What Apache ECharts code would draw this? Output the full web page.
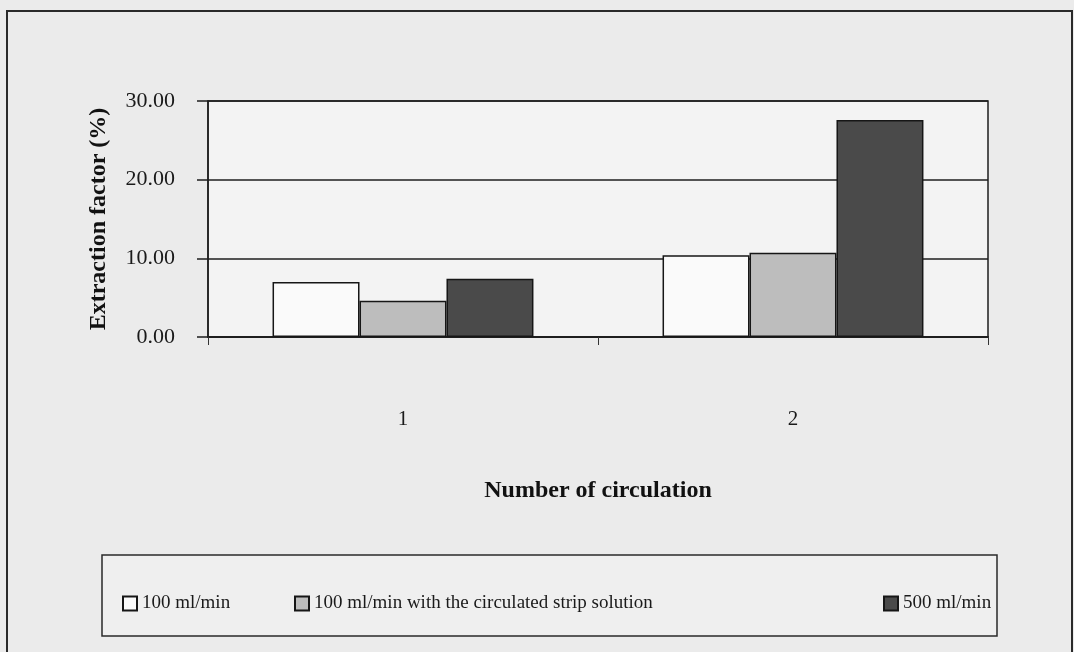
<!DOCTYPE html>
<html>
<head>
    <meta charset="utf-8">
    <title>Extraction factor</title>
    <script src="https://cdn.jsdelivr.net/npm/echarts@6/dist/echarts.min.js"></script>
    <style>
      body { padding: 0; margin: 0; background: #ebebeb; }
      #main { width: 1074px; height: 652px; }
    </style>
</head>
<body>
  <div id="main"></div>
  <script type="text/javascript">
    var categories = ['1', '2']
    var seriesNames = ['100 ml/min', '100 ml/min with the circulated strip solution', '500 ml/min']
    var flow100 = [7.0, 10.4]
    var flow100Strip = [4.6, 10.7]
    var flow500 = [7.4, 27.6]
    var yTicks = [0, 10, 20, 30]

    var font = '"Liberation Serif", "DejaVu Serif", serif'
    var fills = ['#fafafa', '#bdbdbd', '#4a4a4a']

    var myChart = echarts.init(document.getElementById('main'))

    function barSeries(i, data) {
      return {
        name: seriesNames[i],
        type: 'bar',
        data: data,
        barWidth: '22.3%',
        barGap: '0%',
        animation: false,
        itemStyle: { color: fills[i], borderColor: '#161616', borderWidth: 1.5 }
      }
    }

    var legendBase = {
      orient: 'horizontal',
      icon: 'rect',
      itemWidth: 14,
      itemHeight: 14,
      itemGap: 8,
      top: 589,
      textStyle: { fontFamily: font, fontSize: 19, color: '#1a1a1a' }
    }

    var option = {
      backgroundColor: '#ebebeb',
      animation: false,
      textStyle: { fontFamily: font },
      graphic: [
        { type: 'rect', shape: { x: 7, y: 11, width: 1065, height: 660 }, style: { fill: 'none', stroke: '#2a2a2a', lineWidth: 2 }, z: -1 },
        { type: 'rect', shape: { x: 102, y: 555, width: 895, height: 81 }, style: { fill: '#efefef', stroke: '#2a2a2a', lineWidth: 1.5 }, z: -1 }
      ],
      legend: [
        Object.assign({}, legendBase, { left: 117, data: [seriesNames[0]] }),
        Object.assign({}, legendBase, { left: 289, data: [seriesNames[1]] }),
        Object.assign({}, legendBase, { left: 878, data: [seriesNames[2]] })
      ],
      grid: {
        left: 208, right: 86, top: 101, bottom: 315,
        show: true, borderColor: '#1e1e1e', borderWidth: 1.5, backgroundColor: '#f3f3f3'
      },
      xAxis: {
        type: 'category',
        data: categories,
        name: 'Number of circulation',
        nameLocation: 'middle',
        nameGap: 142,
        nameTextStyle: { fontFamily: font, fontSize: 24, fontWeight: 'bold', color: '#111' },
        axisLine: { lineStyle: { color: '#1e1e1e', width: 2 } },
        axisTick: { show: true, length: 8, lineStyle: { color: '#333' } },
        axisLabel: { margin: 72, fontFamily: font, fontSize: 21, color: '#1a1a1a' }
      },
      yAxis: {
        type: 'value',
        min: yTicks[0],
        max: yTicks[yTicks.length - 1],
        interval: 10,
        name: 'Extraction factor (%)',
        nameLocation: 'middle',
        nameGap: 97,
        nameTextStyle: { fontFamily: font, fontSize: 24, fontWeight: 'bold', color: '#111' },
        axisLine: { show: true, lineStyle: { color: '#1e1e1e', width: 1.5 } },
        axisTick: { show: true, length: 11, lineStyle: { color: '#1e1e1e', width: 1.5 } },
        splitLine: { lineStyle: { color: '#1e1e1e', width: 1.5 } },
        axisLabel: {
          margin: 33, fontFamily: font, fontSize: 22, color: '#1a1a1a',
          formatter: function (v) { return v.toFixed(2) }
        }
      },
      series: [
        barSeries(0, flow100),
        barSeries(1, flow100Strip),
        barSeries(2, flow500)
      ]
    }
    myChart.setOption(option)
  </script>
</body>
</html>
